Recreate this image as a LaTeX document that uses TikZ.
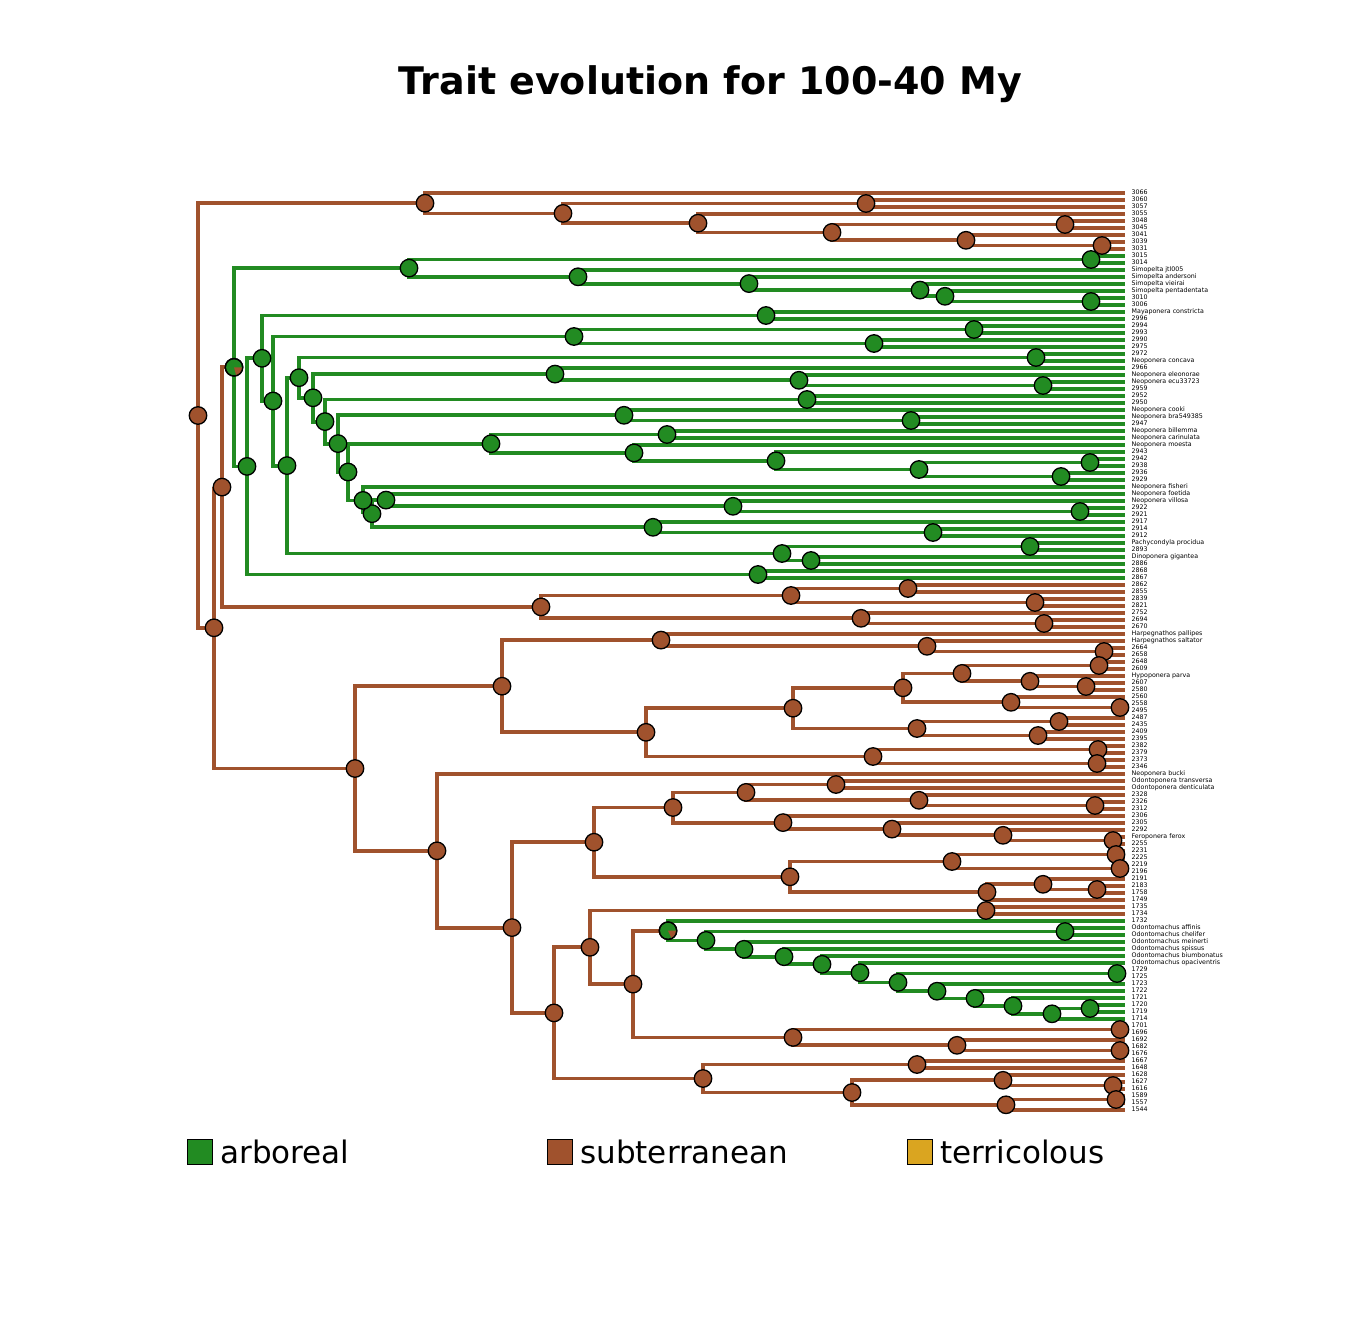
\documentclass[tikz,border=0pt]{standalone}
\usepackage{fontspec}
\setmainfont{DejaVu Sans}
\usetikzlibrary{positioning,backgrounds}
\definecolor{trSienna}{RGB}{160,82,45}
\definecolor{trGreen}{RGB}{34,139,34}
\definecolor{trGold}{RGB}{218,165,32}

\begin{document}
\begin{tikzpicture}[x=1pt, y=-1pt,
  brn/.style={draw=trSienna, line width=3.8pt},
  grn/.style={draw=trGreen, line width=3.8pt},
  ancB/.style={circle, draw=black, line width=1.3pt, fill=trSienna, minimum size=17.5pt, inner sep=0pt},
  ancG/.style={ancB, fill=trGreen},
  tiplab/.style={anchor=west, inner xsep=6.5pt, inner ysep=0pt, text height=4.5pt, text depth=1.3pt, font=\fontsize{6.3}{7}\selectfont},
  legbox/.style={draw=black, line width=1.2pt, minimum size=25pt, inner sep=0pt},
  legtext/.style={inner sep=0pt, font=\fontsize{31}{36}\selectfont},
]
\useasboundingbox (0,0) rectangle (1344,1344);
\node[font=\fontsize{38}{44}\selectfont\bfseries] (title) at (710.5,84) {Trait evolution for 100-40 My};

% tips
\foreach \lab [count=\i] in {3066,3060,3057,3055,3048,3045,3041,3039,3031,3015,3014,Simopelta jtl005,Simopelta andersoni,Simopelta vieirai,Simopelta pentadentata,3010,3006,Mayaponera constricta,2996,2994,2993,2990,2975,2972,Neoponera concava,2966,Neoponera eleonorae,Neoponera ecu33723,2959,2952,2950,Neoponera cooki,Neoponera bra549385,2947,Neoponera billemma,Neoponera carinulata,Neoponera moesta,2943,2942,2938,2936,2929,Neoponera fisheri,Neoponera foetida,Neoponera villosa,2922,2921,2917,2914,2912,Pachycondyla procidua,2893,Dinoponera gigantea,2886,2868,2867,2862,2855,2839,2821,2752,2694,2670,Harpegnathos pallipes,Harpegnathos saltator,2664,2658,2648,2609,Hypoponera parva,2607,2580,2560,2558,2495,2487,2435,2409,2395,2382,2379,2373,2346,Neoponera bucki,Odontoponera transversa,Odontoponera denticulata,2328,2326,2312,2306,2305,2292,Feroponera ferox,2255,2231,2225,2219,2196,2191,2183,1758,1749,1735,1734,1732,Odontomachus affinis,Odontomachus chelifer,Odontomachus meinerti,Odontomachus spissus,Odontomachus biumbonatus,Odontomachus opaciventris,1729,1725,1723,1722,1721,1720,1719,1714,1701,1696,1692,1682,1676,1667,1648,1628,1627,1616,1589,1557,1544}
  \node[tiplab] (t\i) at (1125,{193+7*(\i-1)}) {\lab};

% subterranean ancestors
\foreach \n/\x/\y in {root/198/415.5, r1/214/627.8,
  a1/1102/245.5, a2/966/240.3, a3/1065/224.5, a4/832/232.4, a5/698/223.2, a6/866/203.5, a7/563/213.4, a8/425/203.2,
  b1/908/588.5, b2/1035/602.5, b3/791/595.5, b4/1044/623.5, b5/861/618.3, b6/541/606.9, b7/222/487.1,
  c1/1104/651.5, c2/927/646.3, c3/661/640.1, c4/1099/665.5, c5/1086/686.5, c6/1030/681.3, c7/962/673.4, c8/1120/707.5, c9/1011/702.3, c10/903/687.8,
  c11/1059/721.5, c12/1038/735.5, c13/917/728.5, c14/793/708.2, c15/1098/749.5, c16/1097/763.5, c17/873/756.5, c18/646/732.3, c19/502/686.2,
  d1/836/784.5, d2/1095/805.5, d3/919/800.3, d4/746/792.4, d5/1113/840.5, d6/1003/835.3, d7/892/829.1, d8/783/822.6, d9/673/807.5,
  d10/1116/854.5, d11/1120/868.5, d12/952/861.5, d13/1097/889.5, d14/1043/884.3, d15/987/892.1, d16/790/876.8, d17/594/842.2,
  e1/986/910.5, e2/1120/1029.5, e3/1120/1050.5, e4/957/1045.3, e5/793/1037.4, e6/633/984.1, e7/590/947.3, e8/554/1012.9, e9/512/927.6, e10/437/850.8, e11/355/768.5,
  f1/917/1064.5, f2/1113/1085.5, f3/1003/1080.3, f4/1116/1099.5, f5/1006/1104.8, f6/852/1092.5, f7/703/1078.5}
  \node[ancB] (\n) at (\x,\y) {};

% arboreal ancestors
\foreach \n/\x/\y in {g1/1091/259.5, g2/1091/301.5, g3/945/296.3, g4/920/290.1, g5/749/283.6, g6/578/276.8, g7/409/268.1, g8/766/315.5, g9/974/329.5, g10/874/343.5,
  g11/574/336.5, g12/1036/357.5, g13/1043/385.5, g14/799/380.3, g15/555/374.1, g16/807/399.5, g17/911/420.5, g18/624/415.3, g19/667/434.5, g20/1090/462.5,
  g21/1061/476.5, g22/919/469.5, g23/776/460.8, g24/634/452.9, g25/491/443.7, g26/1080/511.5, g27/733/506.3, g28/386/500.1, g29/933/532.5, g30/653/527.3,
  g31/372/513.7, g32/363/500.4, g33/348/472.0, g34/338/443.6, g35/325/421.6, g36/313/397.8, g37/299/377.7, g38/1030/546.5, g39/811/560.5, g40/782/553.5,
  g41/287/465.6, g42/273/401.0, g43/262/358.3, g44/758/574.5, g45/247/466.4, g46/234/367.3,
  o1/1065/931.5, o2/1090/1008.5, o3/1052/1013.8, o4/1013/1005.9, o5/975/998.4, o6/937/991.2, o7/1117/973.5, o8/898/982.4, o9/860/972.7, o10/822/964.3,
  o11/784/956.7, o12/744/949.3, o13/706/940.4, o14/668/930.7}
  \node[ancG] (\n) at (\x,\y) {};
% mixed states
\foreach \n/\a in {g46/-75, o14/-65} {
  \fill[trSienna] (\n.center) -- ++(\a:8.2pt) arc[start angle=\a, end angle=0, radius=8.2pt] -- cycle;
  \draw[line width=1.3pt] (\n.center) circle[radius=8.75pt];
}

% branches
\begin{scope}[on background layer]
\foreach \p/\c in {root/a8, root/r1, a8/t1, a8/a7, a7/a6, a7/a5, a6/t2, a6/t3, a5/t4, a5/a4, a4/a3, a4/a2, a3/t5, a3/t6, a2/t7, a2/a1, a1/t8, a1/t9,
  r1/b7, r1/e11, b7/g46, b7/b6, b6/b3, b6/b5, b3/b1, b3/b2, b1/t57, b1/t58, b2/t59, b2/t60, b5/t61, b5/b4, b4/t62, b4/t63,
  e11/c19, e11/e10, c19/c3, c19/c18, c3/t64, c3/c2, c2/t65, c2/c1, c1/t66, c1/t67, c18/c14, c18/c17, c14/c10, c14/c13, c10/c7, c10/c9,
  c7/c4, c7/c6, c4/t68, c4/t69, c6/t70, c6/c5, c5/t71, c5/t72, c9/t73, c9/c8, c8/t74, c8/t75, c13/c11, c13/c12, c11/t76, c11/t77, c12/t78, c12/t79,
  c17/c15, c17/c16, c15/t80, c15/t81, c16/t82, c16/t83,
  e10/t84, e10/e9, e9/d17, e9/e8, d17/d9, d17/d16, d9/d4, d9/d8, d4/d1, d4/d3, d1/t85, d1/t86, d3/t87, d3/d2, d2/t88, d2/t89,
  d8/t90, d8/d7, d7/t91, d7/d6, d6/t92, d6/d5, d5/t93, d5/t94, d16/d12, d16/d15, d12/d10, d12/d11, d10/t95, d10/t96, d11/t97, d11/t98,
  d15/d14, d15/t102, d14/t99, d14/d13, d13/t100, d13/t101,
  e8/e7, e8/f7, e7/e1, e7/e6, e1/t103, e1/t104, e6/o14, e6/e5, e5/e2, e5/e4, e2/t120, e2/t121, e4/t122, e4/e3, e3/t123, e3/t124,
  f7/f1, f7/f6, f1/t125, f1/t126, f6/f3, f6/f5, f3/t127, f3/f2, f2/t128, f2/t129, f5/f4, f5/t132, f4/t130, f4/t131}
  \draw[brn] (\p.center) |- (\c);
\foreach \p/\c in {g1/t10, g1/t11, g2/t16, g2/t17, g3/t15, g3/g2, g4/t14, g4/g3, g5/t13, g5/g4, g6/t12, g6/g5, g7/g1, g7/g6,
  g8/t18, g8/t19, g9/t20, g9/t21, g10/t22, g10/t23, g11/g9, g11/g10, g12/t24, g12/t25, g13/t28, g13/t29, g14/t27, g14/g13, g15/t26, g15/g14,
  g16/t30, g16/t31, g17/t33, g17/t34, g18/t32, g18/g17, g19/t35, g19/t36, g20/t39, g20/t40, g21/t41, g21/t42, g22/g20, g22/g21,
  g23/t38, g23/g22, g24/t37, g24/g23, g25/g19, g25/g24, g26/t46, g26/t47, g27/t45, g27/g26, g28/t44, g28/g27, g29/t49, g29/t50,
  g30/t48, g30/g29, g31/g28, g31/g30, g32/t43, g32/g31, g33/g25, g33/g32, g34/g18, g34/g33, g35/g16, g35/g34, g36/g15, g36/g35,
  g37/g12, g37/g36, g38/t51, g38/t52, g39/t53, g39/t54, g40/g38, g40/g39, g41/g37, g41/g40, g42/g11, g42/g41, g43/g8, g43/g42,
  g44/t55, g44/t56, g45/g43, g45/g44, g46/g7, g46/g45,
  o1/t106, o1/t107, o2/t117, o2/t118, o3/o2, o3/t119, o4/t116, o4/o3, o5/t115, o5/o4, o6/t114, o6/o5, o7/t112, o7/t113,
  o8/o7, o8/o6, o9/t111, o9/o8, o10/t110, o10/o9, o11/t109, o11/o10, o12/t108, o12/o11, o13/o1, o13/o12, o14/t105, o14/o13}
  \draw[grn] (\p.center) |- (\c);
\end{scope}

% legend
\node[legbox, fill=trGreen] (kArb) at (200,1152) {};
\node[legtext, right=7pt of kArb] (lArb) {arboreal};
\node[legbox, fill=trSienna] (kSub) at (560,1152) {};
\node[legtext, right=7pt of kSub] (lSub) {subterranean};
\node[legbox, fill=trGold] (kTer) at (920,1152) {};
\node[legtext, right=7pt of kTer] (lTer) {terricolous};
\end{tikzpicture}
\end{document}
